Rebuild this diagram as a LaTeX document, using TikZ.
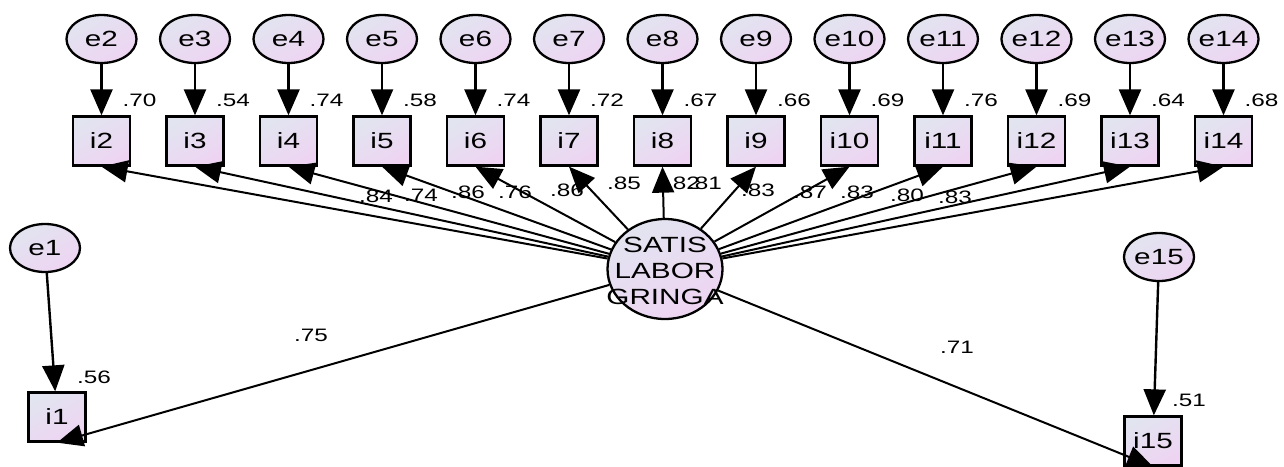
\documentclass[tikz,border=0pt]{standalone}
\usepackage{fontspec}
\setmainfont{Liberation Sans}
\newfontfamily\wide[FakeStretch=1.35]{Liberation Sans}
\usetikzlibrary{arrows.meta,shapes.geometric,calc}
\definecolor{fillA}{RGB}{226,228,240}
\definecolor{fillB}{RGB}{238,212,242}
\begin{document}
\begin{tikzpicture}[x=1pt,y=-1pt,
  errv/.style={ellipse, draw, line width=2.3pt, minimum width=70pt, minimum height=48pt, inner sep=0pt,
    top color=fillA, bottom color=fillB, shading angle=30, font=\wide\fontsize{22}{22}\selectfont},
  obs/.style={rectangle, draw, line width=2.3pt, minimum width=57pt, minimum height=49pt, inner sep=0pt,
    top color=fillA, bottom color=fillB, shading angle=30, font=\wide\fontsize{22}{22}\selectfont},
  latent/.style={ellipse, draw, line width=2.3pt, minimum width=115pt, minimum height=100pt, inner sep=0pt,
    top color=fillA, bottom color=fillB, shading angle=30},
  latenttext/.style={inner sep=0pt, align=center, font=\wide\fontsize{22}{26}\selectfont},
  errarrow/.style={-{Triangle[length=26pt,width=22pt]}, line width=2.4pt},
  loadarrow/.style={-{Triangle[length=26pt,width=22pt]}, line width=2pt},
  lab/.style={inner sep=0pt, font=\wide\fontsize{18}{18}\selectfont}
]
\useasboundingbox (0,0) rectangle (1284,466);

% latent factor
\node[latent] (S) at (665,269) {};
\node[latenttext] (St) at (665,271) {SATIS\\LABOR\\GRINGA};

% top indicators
\foreach \k/\r in {2/.70,3/.54,4/.74,5/.58,6/.74,7/.72,8/.67,9/.66,10/.69,11/.76,12/.69,13/.64,14/.68}{
  \pgfmathsetmacro\xx{101.5+(\k-2)*93.5}
  \node[obs] (i\k) at (\xx,141) {i\k};
  \node[errv] (e\k) at (\xx,39) {e\k};
  \draw[errarrow] (e\k) -- (i\k);
  \node[lab] (r\k) at (\xx+38,100) {\r};
}

% side indicators
\node[obs] (i1) at (57,417) {i1};
\node[errv] (e1) at (45,248) {e1};
\draw[errarrow] (e1) -- (i1);
\node[lab] (r1) at (94,377) {.56};

\node[obs] (i15) at (1153,441) {i15};
\node[errv] (e15) at (1159,257) {e15};
\draw[errarrow] (e15) -- (i15);
\node[lab] (r15) at (1189,400) {.51};

% loadings
\foreach \k/\v/\lx/\ly in {2/.84/376/196,3/.74/421/195,4/.86/468/192,5/.76/515/192,6/.86/567/190,
  7/.85/624/183,8/.82/683/183,9/.81/705/183,10/.83/758/190,11/.87/810/192,12/.83/857/192,
  13/.80/907/195,14/.83/955/197}{
  \draw[loadarrow] (S) -- (i\k.south);
  \node[lab] (l\k) at (\lx,\ly) {\v};
}
\draw[loadarrow] (S) -- (i1.south);
\node[lab] (l1) at (311,335) {.75};
\draw[loadarrow] (S) -- (i15.south);
\node[lab] (l15) at (957,347) {.71};
\end{tikzpicture}
\end{document}
